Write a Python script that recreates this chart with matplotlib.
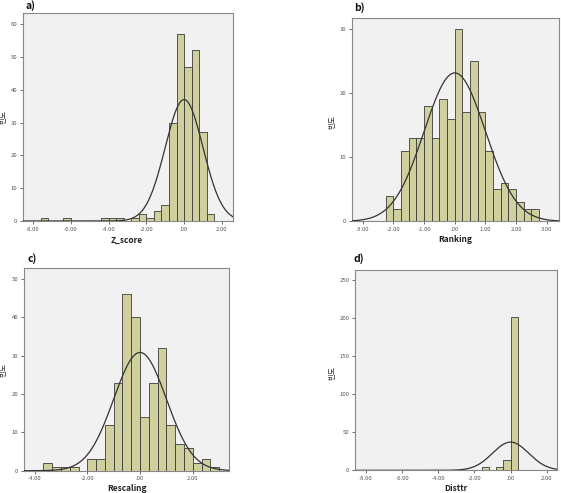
import numpy as np
import matplotlib
matplotlib.use("Agg")
import matplotlib.pyplot as plt

plt.rcParams['font.family'] = ['Noto Sans CJK KR', 'DejaVu Sans']

# ---- data ----
# panel a: Z_score (bin width 0.4)
a_left = [-7.6, -6.4, -4.4, -4.0, -3.6, -2.8, -2.4, -2.0, -1.6, -1.2, -0.8, -0.4, 0.0, 0.4, 0.8, 1.2]
a_counts = [1, 1, 1, 1, 1, 1, 2, 1, 3, 5, 30, 57, 47, 52, 27, 2]
a_width = 0.4

# panel b: Ranking (bin width 0.25)
b_left = [-2.25, -2.0, -1.75, -1.5, -1.25, -1.0, -0.75, -0.5, -0.25, 0.0,
          0.25, 0.5, 0.75, 1.0, 1.25, 1.5, 1.75, 2.0, 2.25, 2.5]
b_counts = [4, 2, 11, 13, 13, 18, 13, 19, 16, 30, 17, 25, 17, 11, 5, 6, 5, 3, 2, 2]
b_width = 0.25

# panel c: Rescaling (bin width 1/3)
c_left = [k / 3 for k in range(-11, 9)]
c_counts = [2, 1, 1, 1, 0, 3, 3, 12, 23, 46, 40, 14, 23, 32, 12, 7, 6, 2, 3, 1]
c_width = 1 / 3

# panel d: Disttr (bin width 0.4)
d_left = [-7.6, -6.8, -6.0, -5.6, -4.4, -4.0, -3.6, -1.6, -1.2, -0.8, -0.4, 0.0]
d_counts = [1, 1, 1, 1, 1, 1, 1, 5, 1, 4, 14, 201]
d_width = 0.4

n_obs = 232
curve_mean = 0.0
curve_sd = 1.0

W, H = 561, 493

panels = [
    dict(tag="a)", xlabel="Z_score", left=a_left, counts=a_counts, width=a_width,
         pos=[0.041, 0.5517, 0.374, 0.4219], xlim=(-8.53, 2.58), ylim=(0, 63.4),
         xticks=[-8, -6, -4, -2, 0, 2], yticks=[0, 10, 20, 30, 40, 50, 60],
         tagxy=(25, 6), xlxy=(127, 240), ylxy=(3.5, 117)),
    dict(tag="b)", xlabel="Ranking", left=b_left, counts=b_counts, width=b_width,
         pos=[0.627, 0.551, 0.369, 0.412], xlim=(-3.36, 3.39), ylim=(0, 31.66),
         xticks=[-3, -2, -1, 0, 1, 2, 3], yticks=[0, 10, 20, 30],
         tagxy=(354, 8), xlxy=(455, 240), ylxy=(332, 122)),
    dict(tag="c)", xlabel="Rescaling", left=c_left, counts=c_counts, width=c_width,
         pos=[0.0428, 0.0452, 0.366, 0.4106], xlim=(-4.405, 3.39), ylim=(0, 52.8),
         xticks=[-4, -2, 0, 2], yticks=[0, 10, 20, 30, 40, 50],
         tagxy=(27, 259), xlxy=(127, 488.5), ylxy=(3.5, 370)),
    dict(tag="d)", xlabel="Disttr", left=d_left, counts=d_counts, width=d_width,
         pos=[0.6328, 0.046, 0.3595, 0.4063], xlim=(-8.61, 2.55), ylim=(0, 262.7),
         xticks=[-8, -6, -4, -2, 0, 2], yticks=[0, 50, 100, 150, 200, 250],
         tagxy=(353, 259), xlxy=(456, 488.5), ylxy=(332, 373)),
]

def fmt(v):
    s = "%.2f" % v
    if s.startswith("0."):
        s = s[1:]
    if s.startswith("-0."):
        s = "-" + s[2:]
    return s

fig = plt.figure(figsize=(W / 100, H / 100), dpi=100)
fig.patch.set_facecolor("white")

def fx(x):
    return x / W

def fy(y):
    return 1 - y / H

for p in panels:
    ax = fig.add_axes(p["pos"])
    ax.set_facecolor("#f1f1f1")
    ax.bar(p["left"], p["counts"], width=p["width"], align="edge",
           color="#d0d09e", edgecolor="#3a3a3a", linewidth=0.6, zorder=2)
    xs = np.linspace(p["xlim"][0], p["xlim"][1], 400)
    ys = n_obs * p["width"] / (curve_sd * np.sqrt(2 * np.pi)) * np.exp(-0.5 * ((xs - curve_mean) / curve_sd) ** 2)
    ax.plot(xs, ys, color="#333333", linewidth=0.9, zorder=3)
    ax.set_xlim(*p["xlim"])
    ax.set_ylim(*p["ylim"])
    ax.set_xticks(p["xticks"])
    ax.set_xticklabels([fmt(v) for v in p["xticks"]])
    ax.set_yticks(p["yticks"])
    ax.set_yticklabels([str(v) for v in p["yticks"]])
    ax.tick_params(labelsize=4.3, colors="#555555", length=2.5, width=0.6, pad=1.5)
    for s in ax.spines.values():
        s.set_color("#888888")
        s.set_linewidth(0.8)
    fig.text(fx(p["xlxy"][0]), fy(p["xlxy"][1]), p["xlabel"], fontsize=6,
             fontweight="bold", color="#222222", ha="center", va="center")
    fig.text(fx(p["ylxy"][0]), fy(p["ylxy"][1]), "빈도", fontsize=5.5,
             color="#333333", rotation=90, ha="center", va="center")
    fig.text(fx(p["tagxy"][0]), fy(p["tagxy"][1]), p["tag"], fontsize=7.5,
             fontweight="bold", ha="left", va="center", color="#111111")

fig.savefig("out.png", dpi=100)
